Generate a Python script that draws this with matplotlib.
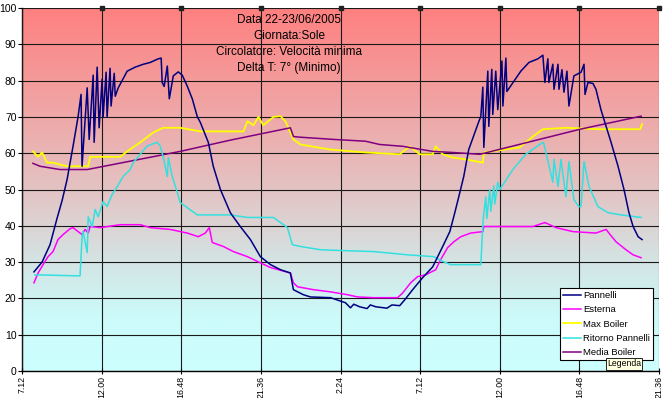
import numpy as np
import matplotlib.pyplot as plt

plt.rcParams['font.family'] = ['Liberation Sans', 'DejaVu Sans']

# time in hours since 7:12 of 22/06, temperatures in °C
tick_pos = [0, 4.8, 9.6, 14.4, 19.2, 24.0, 28.8, 33.6, 38.4]
tick_labels = ['7.12', '12.00', '16.48', '21.36', '2.24', '7.12', '12.00', '16.48', '21.36']

pannelli_t = [0.72, 1.21, 1.69, 2.11, 2.42, 2.72, 3.08, 3.38, 3.56, 3.62, 3.93, 4.05, 4.29, 4.35,
              4.53, 4.65, 4.83, 4.89, 5.07, 5.13, 5.31, 5.37, 5.56, 5.62, 5.80, 6.34, 6.82, 7.31,
              7.73, 8.21, 8.39, 8.45, 8.57, 8.76, 8.88, 9.12, 9.42, 9.66, 9.96, 10.27, 10.57,
              10.75, 11.23, 11.53, 11.96, 12.56, 13.16, 13.77, 14.37, 14.98, 15.58, 16.18, 16.36,
              16.97, 17.39, 18.60, 19.50, 19.8, 20.0, 20.35, 20.8, 21.0, 21.32, 22.0, 22.3, 22.77,
              23.07, 23.55, 24.15, 24.76, 25.36, 25.79, 26.09, 26.33, 26.63, 26.93, 27.48, 27.66,
              27.78, 27.84, 28.08, 28.14, 28.32, 28.38, 28.56, 28.68, 28.93, 28.99, 29.17, 29.23,
              29.65, 30.07, 30.56, 31.10, 31.40, 31.52, 31.70, 31.76, 32.00, 32.07, 32.31, 32.37,
              32.55, 32.67, 32.85, 32.97, 33.27, 33.70, 33.88, 33.94, 34.12, 34.42, 34.60, 34.90,
              35.21, 35.51, 35.93, 36.29, 36.59, 36.84, 37.14, 37.38]
pannelli_v = [27.3, 30, 34.8, 42, 47, 52.8, 62, 70, 76.2, 56.4, 78, 63.8, 81.5, 63,
              83.7, 67, 80.4, 70, 82.3, 70, 83.4, 73, 82, 75.7, 78, 82.6, 83.7, 84.5,
              85, 86, 86.2, 79.5, 78.4, 84, 75, 81.3, 82.4, 81.5, 78.5, 74.9, 70,
              68.5, 63, 56.4, 50, 43.6, 39.8, 36.2, 31.5, 29.3, 27.9, 27, 22.4,
              21, 20.4, 20.2, 18.8, 17.4, 18.4, 17.7, 17.2, 18.2, 17.7, 17.3, 18.2, 18,
              19.6, 22.4, 25.7, 28.7, 34.3, 38.4, 43.6, 48, 53.6, 61, 68, 70.2,
              78.2, 61.6, 82.6, 67.4, 83.1, 70.7, 82.6, 72, 85.4, 73, 86.2, 77,
              79.8, 82.6, 85, 86, 87, 79.5, 86, 79.5, 84.5, 77.6, 84.5, 77.6,
              83, 76.8, 82.6, 73, 81.3, 82.3, 84.5, 76.2, 79.5, 79.2, 77.6, 72,
              67.4, 63, 56.4, 50, 43.6, 39.8, 37, 36.2]

esterna_t = [0.72, 0.97, 1.27, 1.57, 1.87, 2.17, 2.48, 2.90, 3.08, 3.38, 3.62, 3.80, 3.99, 4.11,
             4.71, 5.92, 7.13, 7.73, 8.94, 9.96, 10.63, 11.05, 11.29, 11.47, 12.14, 12.74, 13.59,
             14.37, 14.98, 16.18, 16.36, 16.61, 17.57, 18.60, 19.63, 20.23, 21.20, 22.64, 22.95,
             23.43, 23.85, 24.34, 24.94, 25.24, 25.66, 26.03, 26.45, 27.05, 27.78, 27.84, 28.68,
             29.77, 30.80, 31.52, 32.19, 33.21, 34.60, 35.21, 35.45, 35.81, 36.41, 36.84, 37.32]
esterna_v = [24.3, 27, 29.3, 31.5, 32.9, 36.2, 37.6, 39.2, 39.5, 38.4, 37.6, 39, 38, 39.8,
             39.5, 40.3, 40.3, 39.5, 39, 38, 37, 38, 39.5, 35.4, 34.3, 32.9, 31.5,
             29.8, 28.5, 27, 24.3, 23.2, 22.4, 21.8, 21, 20.4, 20.2, 20.2, 21.5,
             24.3, 26, 26.5, 27.9, 30.7, 34, 35.6, 37, 38, 38.4, 39.8, 39.8,
             39.8, 39.8, 40.9, 39.5, 38.4, 38, 39, 37.6, 35.6, 33.4, 32, 31.2]

max_boiler_t = [0.66, 0.97, 1.21, 1.51, 1.87, 2.17, 2.72, 3.99, 4.11, 5.92, 6.34, 7.13, 7.91,
                8.51, 9.54, 10.75, 13.35, 13.59, 13.95, 14.25, 14.55, 15.16, 15.58, 15.88,
                16.18, 16.36, 16.79, 17.81, 18.60, 20.71, 22.77, 23.37, 23.97, 24.76, 24.94,
                25.36, 25.97, 26.75, 27.78, 27.84, 30.01, 30.80, 31.40, 32.79, 34.84, 37.26, 37.38]
max_boiler_v = [60.5, 59, 60.2, 57.4, 57.4, 57, 56.4, 56.4, 59, 59, 60.5, 63, 65.7,
                67, 67, 66, 66, 68.8, 67.7, 70, 67.7, 70, 70.2, 68.8,
                65.7, 63.8, 62.4, 61.6, 61, 60.2, 59.7, 61.9, 59.7, 59.7, 61.9,
                59.7, 58.8, 58.3, 57.4, 60.2, 61.6, 64.6, 66.6, 67, 66.6, 66.6, 68]

ritorno_t = [0.78, 3.50, 3.62, 3.68, 3.93, 3.99, 4.23, 4.41, 4.59, 4.89, 5.13, 5.43, 5.74, 6.10,
             6.52, 6.70, 7.55, 8.15, 8.33, 8.51, 8.76, 8.82, 9.06, 9.36, 9.54, 9.96, 10.57,
             12.56, 13.59, 15.16, 15.58, 16.00, 16.30, 16.79, 18.00, 19.81, 21.20, 23.25, 24.82,
             25.42, 25.85, 27.66, 27.78, 27.84, 27.96, 28.02, 28.20, 28.26, 28.44, 28.50, 28.68,
             28.80, 29.59, 30.37, 31.40, 31.46, 31.58, 32.00, 32.07, 32.31, 32.49, 32.79, 32.97,
             33.27, 33.57, 33.70, 33.88, 34.18, 34.72, 35.33, 36.11, 37.32]
ritorno_v = [26.5, 26.2, 37, 38.4, 32.6, 42.5, 39.8, 44.5, 42.5, 46.7, 45.3, 48.6, 50.8, 53.6,
             55.5, 57.4, 62, 63, 62, 59, 53.6, 58.8, 53.6, 49.2, 46.4, 45, 43,
             43, 42.3, 42.3, 40.9, 39.5, 34.8, 34.3, 33.4, 33.1, 32.9, 32, 31.5,
             30.1, 29.3, 29.3, 40.3, 43.6, 48, 42, 50, 44, 51, 46, 52,
             50, 55.5, 59.7, 63, 62.7, 60.2, 52, 58.3, 50.8, 58.3, 48, 57.7,
             47.2, 45.3, 45.3, 57.7, 50.8, 45.3, 43.6, 43, 42.3]

media_t = [0.66, 1.09, 2.29, 3.93, 9.54, 12.56, 16.18, 16.36, 16.79, 18.78, 20.71, 21.56, 22.95,
           24.76, 25.97, 27.60, 33.64, 37.32]
media_v = [57.2, 56.4, 55.5, 55.5, 60.5, 63.6, 67, 64.6, 64.4, 63.8, 63.3, 62.4, 61.9,
           60.5, 60.2, 59.7, 66.6, 70.2]

fig = plt.figure(figsize=(6.64, 3.98), dpi=100)
ax = fig.add_axes([22 / 664, 27 / 398, 637 / 664, 363 / 398])

# background gradient red -> light cyan
lev = np.linspace(0, 100, 300)
stops = [0, 15, 30, 50, 100]
r = np.interp(lev, stops, [204, 204, 212, 228, 255])
g = np.interp(lev, stops, [255, 250, 228, 195, 128])
b = np.interp(lev, stops, [255, 250, 228, 195, 128])
img = np.stack([r, g, b], axis=1)[:, None, :] / 255
ax.imshow(img, extent=[0, 38.4, 0, 100], aspect='auto', origin='lower', zorder=0)

ax.plot(pannelli_t, pannelli_v, color='#000080', lw=1.1, label='Pannelli', zorder=6)
ax.plot(esterna_t, esterna_v, color='#FF00FF', lw=1.1, label='Esterna', zorder=4)
ax.plot(max_boiler_t, max_boiler_v, color='#FFFF00', lw=1.3, label='Max Boiler', zorder=3)
ax.plot(ritorno_t, ritorno_v, color='#33E0E0', lw=1.1, label='Ritorno Pannelli', zorder=5)
ax.plot(media_t, media_v, color='#800080', lw=1.1, label='Media Boiler', zorder=4)

ax.set_xlim(0, 38.4)
ax.set_ylim(0, 100)
ax.set_xticks(tick_pos)
ax.set_xticklabels(tick_labels, rotation=90, fontsize=6.3)
ax.set_yticks(range(0, 101, 10))
ax.tick_params(axis='y', labelsize=7.5, length=3, pad=1)
ax.tick_params(axis='x', direction='inout', length=5, pad=1)
ax.grid(True, color='#1a1a1a', lw=0.8, zorder=1)
ax.set_axisbelow(False)
for s in ['top', 'right']:
    ax.spines[s].set_visible(False)
for s in ['left', 'bottom']:
    ax.spines[s].set_color('black')
    ax.spines[s].set_linewidth(1)

# small handles along the top
ax.plot(tick_pos[1:], [100] * 8, ls='none', marker='s', ms=3, color='#222222', clip_on=False, zorder=7)

fig.text(289 / 664, 1 - 14 / 398,
         'Data 22-23/06/2005\nGiornata:Sole\nCircolatore: Velocità minima\nDelta T: 7° (Minimo)',
         ha='center', va='top', fontsize=8.5, linespacing=1.45)

leg = ax.legend(loc='upper left', bbox_to_anchor=(560 / 664, 1 - 288 / 398),
                bbox_transform=fig.transFigure, borderaxespad=0, fontsize=6.8,
                fancybox=False, framealpha=1, edgecolor='black', handlelength=1.9,
                labelspacing=0.55, borderpad=0.35, handletextpad=0.2)
leg.get_frame().set_linewidth(0.8)
leg.set_zorder(10)

fig.text(624 / 664, 1 - 364 / 398, 'Legenda', ha='center', va='center', fontsize=6.2,
         bbox=dict(boxstyle='square,pad=0.15', fc='#FFFFE1', ec='black', lw=0.6), zorder=11)

fig.savefig('out.png', dpi=100)
